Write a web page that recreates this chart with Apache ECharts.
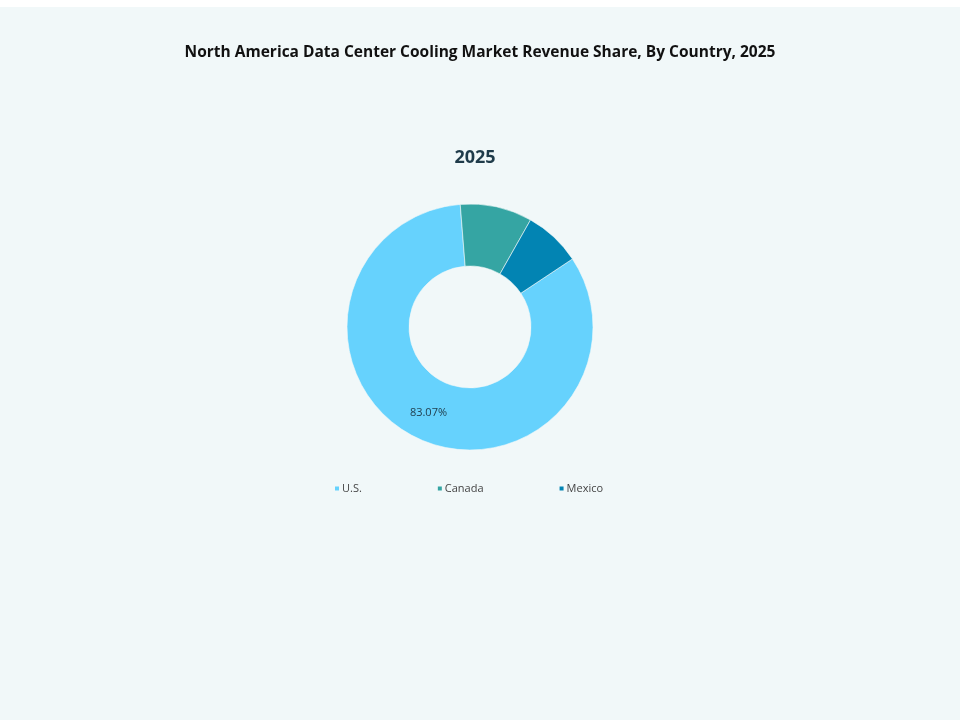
<!DOCTYPE html>
<html>
<head>
<meta charset="utf-8">
<script src="https://cdn.jsdelivr.net/npm/echarts@6/dist/echarts.min.js"></script>
<style>
html,body{margin:0;padding:0;background:#ffffff;}
#wrap{position:absolute;left:0;top:7px;width:960px;height:713px;background:#f1f8f9;}
#chart{width:960px;height:713px;}
</style>
</head>
<body>
<div id="wrap"><div id="chart"></div></div>
<script>
const categories = ['U.S.', 'Canada', 'Mexico'];
const shares = [83.07, 9.45, 7.48];
const colors = ['#66d2fd', '#35a5a3', '#0284b3'];
const titleText = 'North America Data Center Cooling Market Revenue Share, By Country, 2025';
const subTitleText = '2025';

const chart = echarts.init(document.getElementById('chart'));
chart.setOption({
  backgroundColor: '#f1f8f9',
  animation: false,
  title: [
    {
      text: titleText,
      left: 'center',
      top: 33,
      textStyle: { fontFamily: '"Open Sans", "DejaVu Sans", sans-serif', fontWeight: 'bold', fontSize: 15.5, color: '#111111' }
    },
    {
      text: subTitleText,
      left: 470,
      textAlign: 'center',
      top: 137,
      textStyle: { fontFamily: '"Open Sans", "DejaVu Sans", sans-serif', fontWeight: 'bold', fontSize: 18, color: '#1f3b4a' }
    }
  ],
  legend: {
    data: categories,
    top: 471,
    left: 328,
    itemGap: 74,
    itemWidth: 6,
    itemHeight: 6,
    icon: 'rect',
    textStyle: { fontFamily: '"Open Sans", "DejaVu Sans", sans-serif', fontSize: 11, color: '#444444', padding: [0, 0, 0, -3] }
  },
  series: [{
    type: 'pie',
    center: [470, 320],
    radius: [61, 123],
    startAngle: 33.6,
    clockwise: true,
    avoidLabelOverlap: false,
    itemStyle: { borderColor: '#f1f8f9', borderWidth: 0.6 },
    label: {
      show: true,
      position: 'inside',
      fontFamily: '"Open Sans", "DejaVu Sans", sans-serif',
      fontSize: 11,
      color: '#1f3b4a',
      formatter: function (p) { return p.dataIndex === 0 ? p.value.toFixed(2) + '%' : ''; }
    },
    labelLine: { show: false },
    emphasis: { disabled: true },
    data: categories.map((c, i) => ({ name: c, value: shares[i], itemStyle: { color: colors[i] } }))
  }]
});
</script>
</body>
</html>
